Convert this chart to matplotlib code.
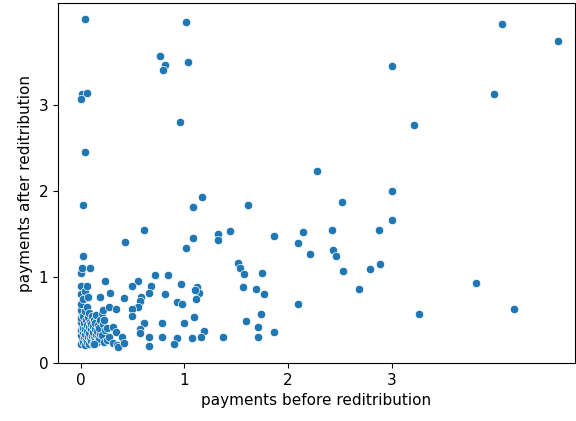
import matplotlib
matplotlib.use("Agg")
from matplotlib import pyplot as plt
import seaborn as sns

# payments per household, before and after redistribution

# the few large ones
big_before = [0.04, 1.02, 0.76, 0.81, 0.79, 1.03, 0.01, 0.06, 0.00, 0.96, 0.04,
              4.07, 4.61, 3.00, 3.99, 3.22, 2.28, 3.00, 2.52, 3.26, 3.81, 4.18]
big_after = [4.00, 3.97, 3.57, 3.47, 3.41, 3.50, 3.13, 3.14, 3.07, 2.81, 2.46,
             3.94, 3.75, 3.46, 3.13, 2.77, 2.24, 2.00, 1.87, 0.57, 0.93, 0.63]

# middle range, before between 1.3 and 3
mid_before = [1.61, 1.32, 1.32, 1.44, 1.52, 1.54, 1.58, 1.57, 1.69, 1.77, 1.75,
              1.59, 1.71, 1.71, 1.74, 1.86, 1.37, 3.00, 2.88, 2.42, 2.14, 2.10,
              1.86, 2.21, 2.43, 2.46, 2.53, 2.79, 2.89, 2.69, 2.10]
mid_after = [1.84, 1.50, 1.43, 1.54, 1.16, 1.11, 1.04, 0.89, 0.86, 0.80, 1.05,
             0.49, 0.42, 0.30, 0.57, 0.36, 0.30, 1.67, 1.55, 1.55, 1.53, 1.40,
             1.48, 1.27, 1.32, 1.24, 1.07, 1.09, 1.15, 0.86, 0.69]

# before between 0.4 and 1.2
low_before = [1.08, 1.17, 0.61, 0.43, 1.08, 1.02, 1.19, 1.16, 1.07, 1.09, 1.00,
              1.12, 1.14, 1.11, 1.10, 0.97, 0.84, 0.72, 0.81, 0.68, 0.66, 0.55,
              0.49, 0.58, 0.57, 0.93, 0.98, 0.55, 0.49, 0.49, 0.78, 0.61, 0.57,
              0.57, 0.66, 0.66, 0.78, 0.93, 0.90, 0.02]
low_after = [1.81, 1.93, 1.55, 1.41, 1.46, 1.34, 0.37, 0.30, 0.29, 0.54, 0.47,
             0.89, 0.81, 0.74, 0.85, 0.92, 1.02, 1.02, 0.80, 0.90, 0.81, 0.95,
             0.90, 0.77, 0.72, 0.71, 0.69, 0.65, 0.63, 0.55, 0.46, 0.46, 0.39,
             0.35, 0.30, 0.20, 0.30, 0.29, 0.22, 1.84]

# the crowd near zero
small_before = [0.00, 0.01, 0.00, 0.00, 0.01, 0.00, 0.00, 0.01, 0.00, 0.00, 0.00, 0.00, 0.00, 0.01,
                0.02, 0.03, 0.02, 0.02, 0.03, 0.02, 0.02, 0.02,
                0.04, 0.05, 0.04, 0.04, 0.05, 0.04, 0.04,
                0.06, 0.07, 0.06, 0.06, 0.07, 0.06, 0.06,
                0.08, 0.09, 0.08, 0.08, 0.09, 0.08, 0.07,
                0.10, 0.11, 0.10, 0.10, 0.11, 0.09,
                0.12, 0.13, 0.12, 0.12, 0.13,
                0.14, 0.15, 0.14, 0.14, 0.15,
                0.16, 0.17, 0.16, 0.17,
                0.18, 0.19, 0.18, 0.19,
                0.20, 0.21, 0.20, 0.19,
                0.22, 0.23, 0.22, 0.21,
                0.25, 0.25, 0.23,
                0.27, 0.27, 0.28,
                0.31, 0.31,
                0.34, 0.34, 0.35,
                0.36, 0.40, 0.42, 0.42, 0.13]
small_after = [0.22, 0.28, 0.33, 0.38, 0.43, 0.48, 0.52, 0.57, 0.62, 0.69, 0.80, 0.90, 1.05, 1.10,
               0.25, 0.30, 0.36, 0.41, 0.46, 0.55, 0.74, 1.25,
               0.21, 0.27, 0.34, 0.40, 0.50, 0.60, 0.84,
               0.24, 0.30, 0.37, 0.44, 0.53, 0.65, 0.90,
               0.22, 0.28, 0.35, 0.42, 0.48, 0.58, 0.77,
               0.26, 0.32, 0.39, 0.45, 0.55, 1.10,
               0.22, 0.30, 0.36, 0.43, 0.50,
               0.27, 0.33, 0.40, 0.47, 0.56,
               0.24, 0.30, 0.37, 0.44,
               0.28, 0.34, 0.41, 0.50,
               0.33, 0.45, 0.58, 0.77,
               0.25, 0.38, 0.50, 0.62,
               0.27, 0.41, 0.96,
               0.30, 0.65, 0.81,
               0.42, 0.23,
               0.36, 0.63, 0.21,
               0.19, 0.30, 0.23, 0.76, 0.22]

before = big_before + mid_before + low_before + small_before
after = big_after + mid_after + low_after + small_after

plt.rcParams['font.size'] = 11

fig = plt.figure(figsize=(5.76, 4.21), dpi=100)
ax = fig.add_axes([58 / 576, 58 / 421, 517 / 576, 360 / 421])
sns.scatterplot(x=before, y=after, ax=ax)

ax.set_xlim(-0.22, 4.77)
ax.set_ylim(0, 4.19)
ax.set_xticks([0, 1, 2, 3])
ax.set_yticks([0, 1, 2, 3])
ax.set_xlabel('payments before reditribution')
ax.set_ylabel('payments after reditribution')

fig.savefig('out.png', dpi=100)
